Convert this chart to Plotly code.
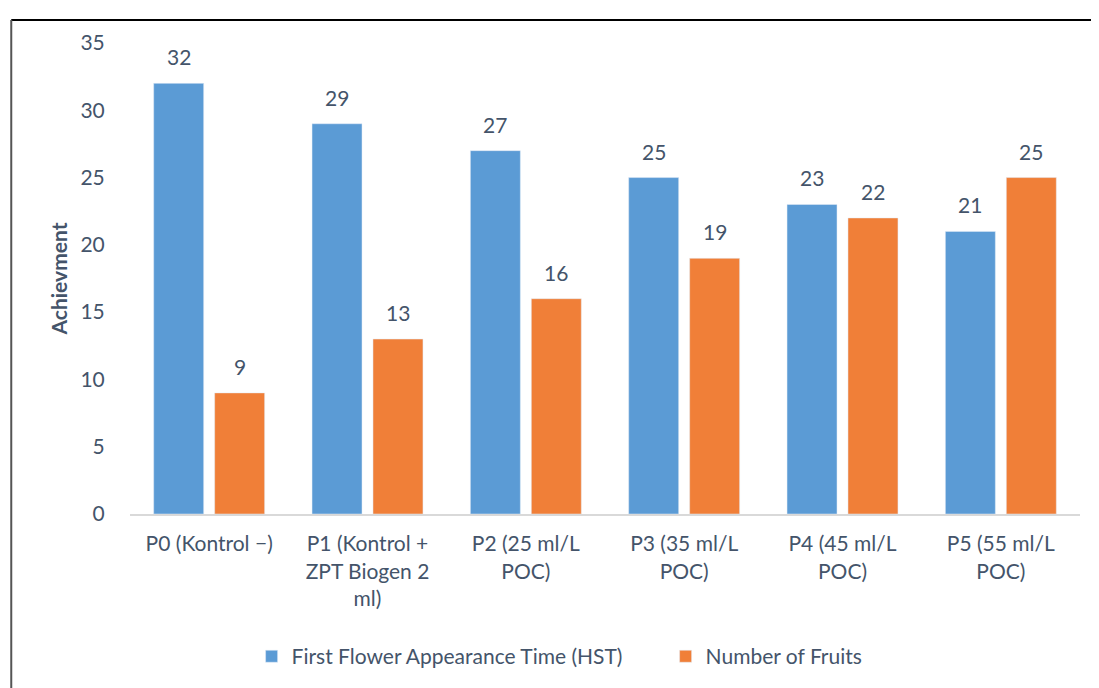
import plotly.graph_objects as go

categories = [
    "P0 (Kontrol −)",
    "P1 (Kontrol +<br>ZPT Biogen 2<br>ml)",
    "P2 (25 ml/L<br>POC)",
    "P3 (35 ml/L<br>POC)",
    "P4 (45 ml/L<br>POC)",
    "P5 (55 ml/L<br>POC)",
]
flower_time = [32, 29, 27, 25, 23, 21]
fruits = [9, 13, 16, 19, 22, 25]

TEXT = "#44546A"
FONT = "Lato"
FS = 21
BAR_SHIFT = 30.5  # px from category centre to each bar centre

fig = go.Figure()
fig.add_trace(go.Bar(
    name="First Flower Appearance Time (HST)",
    x=categories, y=flower_time,
    marker_color="#5B9BD5",
))
fig.add_trace(go.Bar(
    name="Number of Fruits",
    x=categories, y=fruits,
    marker_color="#F07F38",
))

# value labels sit well clear of the bar tops, as in the original
for values, shift in ((flower_time, -BAR_SHIFT), (fruits, BAR_SHIFT)):
    for cat, v in zip(categories, values):
        fig.add_annotation(x=cat, y=v, text=str(v), showarrow=False,
                           xshift=shift, yshift=12, yanchor="bottom",
                           font=dict(size=FS, color=TEXT, family=FONT))

# page body has an 8px margin, so the figure is a bit smaller than the window
fig.update_layout(
    width=1091, height=680,
    barmode="group", bargap=0.23, bargroupgap=0.18,
    plot_bgcolor="white", paper_bgcolor="white",
    font=dict(family=FONT, size=FS, color=TEXT),
    margin=dict(l=122, r=19, t=35, b=173),
    showlegend=True,
    legend=dict(orientation="h", x=0.128, xanchor="left", y=-0.30, yanchor="middle",
                font=dict(size=FS, color=TEXT), itemwidth=30, entrywidth=369,
                traceorder="normal"),
    xaxis=dict(showline=True, linecolor="#D9D9D9", linewidth=2, ticks="",
               ticklabelstandoff=10,
               tickfont=dict(size=FS, color=TEXT)),
    yaxis=dict(range=[0, 35], dtick=5, showgrid=False, zeroline=False, showline=False,
               ticks="outside", ticklen=20, tickcolor="white",
               tickfont=dict(size=FS, color=TEXT),
               title=dict(text="<b>Achievment</b>", font=dict(size=FS, color=TEXT), standoff=7)),
    shapes=[
        dict(type="line", xref="paper", yref="paper", x0=-0.125, x1=1.03, y0=1.0488, y1=1.0488,
             line=dict(color="black", width=2)),
        dict(type="line", xref="paper", yref="paper", x0=-0.125, x1=-0.125, y0=1.0488, y1=-0.4,
             line=dict(color="#555555", width=2)),
    ],
)

fig.write_html("out.html")
